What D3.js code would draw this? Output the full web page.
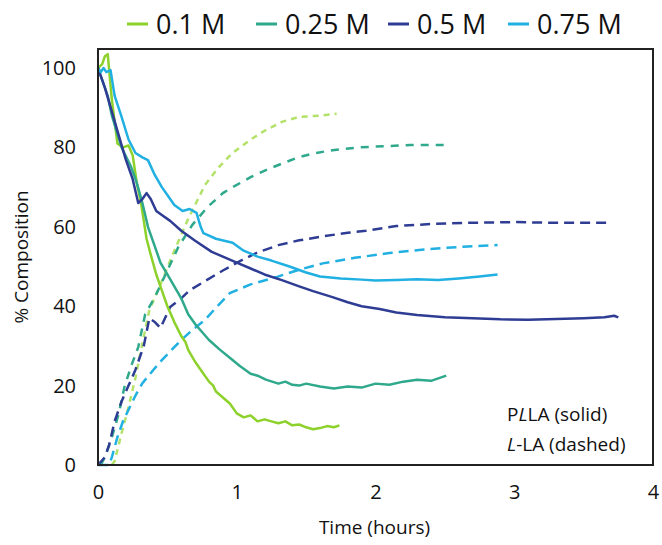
<!DOCTYPE html>
<html>
<head>
<meta charset="utf-8">
<script src="https://cdn.jsdelivr.net/npm/d3@7/dist/d3.min.js"></script>
<style>
  body { margin: 0; background: #fff; }
  svg { font-family: "Open Sans", sans-serif; }
</style>
</head>
<body>
<div id="chart"></div>
<script>
// concentrations shown in the legend
const concentrations = ["0.1 M", "0.25 M", "0.5 M", "0.75 M"];
const colors = ["#8dd12b", "#2fa98c", "#2e3c93", "#21b0e2"];
const dashedColors = ["#b3e26a", "#2fa98c", "#2e3c93", "#21b0e2"];

const xTicks = [0, 1, 2, 3, 4];
const yTicks = [0, 20, 40, 60, 80, 100];

// PLLA (solid) — [time h, % composition]
const solid01 = [[0,100],[0.03,101],[0.05,103],[0.07,103.5],[0.1,92],[0.14,81],[0.18,80],[0.22,80.5],[0.25,78],[0.28,71],[0.31,66],[0.35,57],[0.38,53],[0.42,48],[0.46,44],[0.5,40],[0.55,36],[0.6,32.5],[0.63,31],[0.65,29],[0.7,26],[0.75,23.5],[0.8,21],[0.83,20],[0.85,18.5],[0.9,17],[0.95,15.5],[1.0,13],[1.05,12],[1.1,12.5],[1.15,11],[1.2,11.5],[1.25,11],[1.3,10.5],[1.35,11],[1.4,10],[1.45,10.2],[1.5,9.5],[1.55,9],[1.6,9.3],[1.65,9.8],[1.7,9.5],[1.74,10]];
const solid025 = [[0,100],[0.03,97],[0.07,93],[0.1,88],[0.17,80],[0.24,75],[0.28,71],[0.32,66],[0.36,60],[0.41,55],[0.45,51],[0.5,48],[0.55,45],[0.6,42],[0.65,38],[0.7,35.5],[0.75,33.5],[0.8,31.5],[0.88,29],[0.95,27],[1.02,25],[1.1,23],[1.15,22.5],[1.21,21.5],[1.3,20.5],[1.35,21],[1.4,20.2],[1.45,20],[1.5,20.5],[1.6,19.8],[1.7,19.3],[1.8,19.8],[1.9,19.5],[2.0,20.5],[2.1,20.2],[2.2,21],[2.3,21.5],[2.4,21.2],[2.51,22.5]];
const solid05 = [[0,100],[0.05,95],[0.1,89],[0.15,83],[0.2,77],[0.25,72],[0.29,66],[0.32,67],[0.35,68.5],[0.38,67],[0.42,64],[0.46,63],[0.52,61.5],[0.6,59],[0.7,56.5],[0.82,53.7],[0.9,52.5],[1.0,51],[1.1,49.5],[1.2,48],[1.33,46.5],[1.45,45],[1.55,43.8],[1.69,42.3],[1.8,41],[1.9,40],[2.03,39.3],[2.15,38.4],[2.3,37.8],[2.5,37.2],[2.7,37],[2.9,36.7],[3.1,36.6],[3.3,36.8],[3.5,37],[3.65,37.2],[3.72,37.6],[3.75,37.2]];
const solid075 = [[0,100],[0.02,99],[0.04,100],[0.06,99],[0.09,99.5],[0.12,93],[0.17,87.7],[0.22,82],[0.27,78.6],[0.32,77.5],[0.36,76.8],[0.41,73],[0.46,70],[0.5,68],[0.55,65.5],[0.61,64],[0.66,64.5],[0.71,63.5],[0.74,60],[0.76,58.4],[0.85,57],[0.97,56],[1.05,54],[1.15,52.5],[1.25,51.5],[1.38,50],[1.5,48.5],[1.6,47.5],[1.75,47],[1.9,46.7],[2.0,46.5],[2.15,46.6],[2.3,46.8],[2.45,46.6],[2.6,47],[2.75,47.5],[2.88,48]];

// L-LA (dashed)
const dashed01 = [[0.1,0],[0.12,1],[0.17,8],[0.22,14.6],[0.27,22],[0.32,30.7],[0.37,39],[0.45,45.5],[0.55,54],[0.65,62],[0.77,70.5],[0.87,75],[0.97,78.6],[1.1,82],[1.21,84.4],[1.33,86.5],[1.45,87.7],[1.6,88],[1.72,88.5]];
const dashed025 = [[0.02,0],[0.05,2],[0.1,7],[0.15,13],[0.19,19.6],[0.24,25],[0.29,29.7],[0.34,38],[0.41,42.3],[0.5,49],[0.58,55],[0.68,60.5],[0.79,65],[0.9,68.5],[0.97,70],[1.1,72.5],[1.21,74.3],[1.33,76],[1.45,77.6],[1.57,78.6],[1.69,79.3],[1.88,80],[2.05,80.3],[2.25,80.6],[2.51,80.6]];
const dashed05 = [[0,0],[0.05,2],[0.08,5],[0.12,11],[0.17,16],[0.22,20],[0.27,24],[0.33,30],[0.37,37],[0.41,36],[0.45,34.5],[0.52,39.8],[0.6,42],[0.66,44],[0.78,46.5],[0.9,49],[1.02,51.3],[1.14,53.4],[1.3,55.4],[1.45,56.6],[1.62,57.6],[1.8,58.5],[1.93,59],[2.15,60.2],[2.4,60.7],[2.63,61],[3.0,61.2],[3.3,61],[3.68,61]];
const dashed075 = [[0,0],[0.08,0],[0.1,2],[0.14,7],[0.18,11],[0.22,13.9],[0.27,17.5],[0.32,20.6],[0.4,24],[0.46,26.4],[0.53,29],[0.6,31.5],[0.68,34],[0.77,36.5],[0.86,40],[0.95,43.3],[1.1,45.5],[1.29,47.4],[1.45,49.2],[1.62,50.8],[1.85,52.2],[2.1,53.4],[2.35,54.3],[2.63,55],[2.88,55.4]];

const solids = [solid01, solid025, solid05, solid075];
const dashes = [dashed01, dashed025, dashed05, dashed075];
const dashPatterns = ["6,5", "8,7", "10,6", "10,6"];

const W = 662, H = 545;
const margin = { top: 49, right: 9, bottom: 80, left: 98 };
const width = W - margin.left - margin.right;
const height = H - margin.top - margin.bottom;

const svg = d3.select("#chart").append("svg")
  .attr("width", W).attr("height", H);
const g = svg.append("g").attr("transform", `translate(${margin.left},${margin.top})`);

const x = d3.scaleLinear().domain([0, 4]).range([0, width]);
const y = d3.scaleLinear().domain([0, 104.8]).range([height, 0]);

const line = d3.line().x(d => x(d[0])).y(d => y(d[1]));

dashes.forEach((s, i) => {
  g.append("path").datum(s)
    .attr("fill", "none")
    .attr("stroke", dashedColors[i])
    .attr("stroke-width", 2.5)
    .attr("stroke-dasharray", dashPatterns[i])
    .attr("d", line);
});
solids.forEach((s, i) => {
  g.append("path").datum(s)
    .attr("fill", "none")
    .attr("stroke", colors[i])
    .attr("stroke-width", 2.5)
    .attr("stroke-linejoin", "round")
    .attr("d", line);
});

// frame
g.append("rect").attr("x", 0).attr("y", 0)
  .attr("width", width).attr("height", height)
  .attr("fill", "none").attr("stroke", "#222").attr("stroke-width", 2);

const yAxis = g.append("g")
  .call(d3.axisLeft(y).tickValues(yTicks).tickFormat(d3.format("d")).tickSize(0).tickPadding(22));
yAxis.select(".domain").remove();
yAxis.selectAll("text").attr("font-size", 20).attr("fill", "#111")
  .attr("font-family", "Open Sans, sans-serif");

const xAxis = g.append("g").attr("transform", `translate(0,${height})`)
  .call(d3.axisBottom(x).tickValues(xTicks).tickFormat(d3.format("d")).tickSize(0).tickPadding(20));
xAxis.select(".domain").remove();
xAxis.selectAll("text").attr("font-size", 20).attr("fill", "#111")
  .attr("font-family", "Open Sans, sans-serif");

svg.append("text")
  .attr("x", margin.left + width / 2 - 1).attr("y", 534)
  .attr("text-anchor", "middle").attr("font-size", 19).attr("fill", "#111")
  .text("Time (hours)");

svg.append("text")
  .attr("transform", `translate(28,${margin.top + height / 2}) rotate(-90)`)
  .attr("text-anchor", "middle").attr("font-size", 19).attr("fill", "#111")
  .text("% Composition");

// annotation
const ann = svg.append("g").attr("font-size", 19).attr("fill", "#111");
const t1 = ann.append("text").attr("x", 507).attr("y", 421);
t1.append("tspan").text("P");
t1.append("tspan").attr("font-style", "italic").text("L");
t1.append("tspan").text("LA (solid)");
const t2 = ann.append("text").attr("x", 507).attr("y", 451);
t2.append("tspan").attr("font-style", "italic").text("L");
t2.append("tspan").text("-LA (dashed)");

// legend
const legendX = [127, 256, 388, 508];
const legend = svg.append("g");
concentrations.forEach((c, i) => {
  legend.append("line")
    .attr("x1", legendX[i]).attr("x2", legendX[i] + 21)
    .attr("y1", 24).attr("y2", 24)
    .attr("stroke", colors[i]).attr("stroke-width", 3);
  legend.append("text")
    .attr("x", legendX[i] + 29).attr("y", 34)
    .attr("font-size", 27).attr("fill", "#111")
    .text(c);
});
</script>
</body>
</html>
